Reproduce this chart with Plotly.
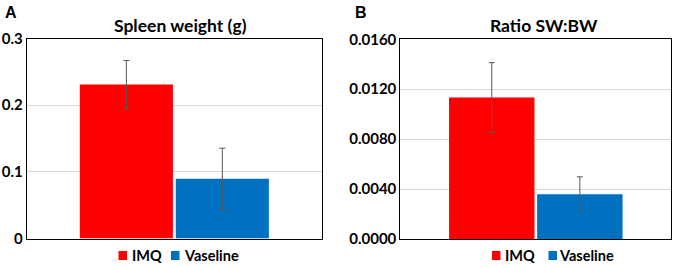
import plotly.graph_objects as go

groups = ["IMQ", "Vaseline"]
colors = ["#FF0000", "#0070C0"]

spleen_weight = [0.231, 0.0895]
spleen_weight_err = [0.036, 0.046]

ratio_sw_bw = [0.01133, 0.00358]
ratio_sw_bw_err = [0.0028, 0.0014]

left_ticks = [0, 0.1, 0.2, 0.3]
right_ticks = [0.0, 0.004, 0.008, 0.012, 0.016]
right_tick_labels = ["0.0000", "0.0040", "0.0080", "0.0120", "0.0160"]

FONT = "Lato"
W, H = 677, 267

fig = go.Figure()
for i, g in enumerate(groups):
    fig.add_trace(go.Bar(
        x=[0], y=[spleen_weight[i]], name=g, marker=dict(color=colors[i], line=dict(width=0)),
        error_y=dict(type="data", array=[spleen_weight_err[i]], color="#595959", thickness=1, width=3),
        xaxis="x", yaxis="y", showlegend=False))
    fig.add_trace(go.Bar(
        x=[0], y=[ratio_sw_bw[i]], name=g, marker=dict(color=colors[i], line=dict(width=0)),
        error_y=dict(type="data", array=[ratio_sw_bw_err[i]], color="#595959", thickness=1, width=3),
        xaxis="x2", yaxis="y2", showlegend=False))

axis_common = dict(showline=True, mirror=True, linecolor="black", linewidth=1, zeroline=False,
                   automargin=False)
tickfont = dict(size=15, weight="bold", family=FONT, color="black")
fig.update_layout(
    width=W, height=H, margin=dict(l=0, r=0, t=0, b=0, pad=0, autoexpand=False),
    paper_bgcolor="white", plot_bgcolor="white",
    barmode="group", bargap=0.35, bargroupgap=0.03,
    font=dict(family=FONT, color="black"),
    xaxis=dict(domain=[26.7 / W, 322 / W], range=[-0.5, 0.5], showticklabels=False,
               showgrid=False, ticks="", **axis_common),
    yaxis=dict(domain=[1 - 238.5 / H, 1 - 38.5 / H], range=[0, 0.3], tickvals=left_ticks,
               showgrid=True, gridcolor="#d9d9d9", ticks="", anchor="x",
               tickfont=tickfont, **axis_common),
    xaxis2=dict(domain=[400.3 / W, 671.3 / W], range=[-0.5, 0.5], showticklabels=False,
                showgrid=False, ticks="", anchor="y2", **axis_common),
    yaxis2=dict(domain=[1 - 239 / H, 1 - 39.3 / H], range=[0, 0.016], tickvals=right_ticks,
                ticktext=right_tick_labels, showgrid=True, gridcolor="#d9d9d9", ticks="", anchor="x2",
                tickfont=tickfont, **axis_common),
)

def ann(text, x, y, size, xanchor="center", family=FONT):
    fig.add_annotation(text=text, x=x / W, y=1 - y / H, xref="paper", yref="paper",
                       showarrow=False, xanchor=xanchor, yanchor="middle", borderpad=0,
                       font=dict(size=size, family=family, color="black", weight="bold"))

ann("A", 4, 12.5, 16, "left", "Liberation Sans")
ann("B", 354, 12.5, 16, "left", "Liberation Sans")
ann("Spleen weight (g)", 180, 25, 17.5)
ann("Ratio SW:BW", 544, 25, 17.5)

def legend_item(label, color, sq_x, text_x, y):
    fig.add_shape(type="rect", xref="paper", yref="paper",
                  x0=sq_x / W, x1=(sq_x + 8.5) / W, y0=1 - (y + 4.5) / H, y1=1 - (y - 4.5) / H,
                  fillcolor=color, line=dict(width=0))
    ann(label, text_x, y, 14.5, "left")

legend_item(groups[0], colors[0], 118.5, 130.5, 255.5)
legend_item(groups[1], colors[1], 171, 182.5, 255.5)
legend_item(groups[0], colors[0], 492, 503.5, 255.5)
legend_item(groups[1], colors[1], 548.5, 557.5, 255.5)

fig.write_html("out.html", config={"displayModeBar": False},
               post_script="document.body.style.margin='0';")
